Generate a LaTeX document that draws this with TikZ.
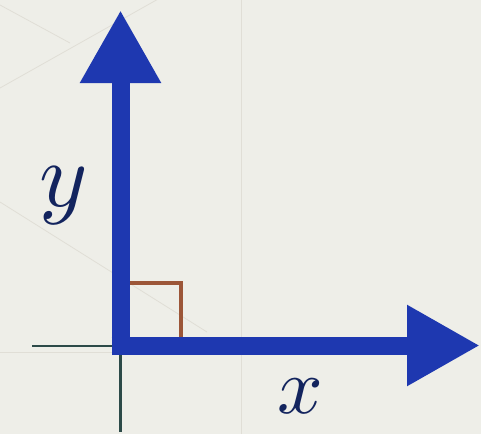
\documentclass[tikz,border=0pt]{standalone}
\usepackage{fix-cm}
\usetikzlibrary{arrows.meta}
\definecolor{bg}{HTML}{EEEEE8}
\definecolor{axblue}{HTML}{1E38B0}
\definecolor{brownsq}{HTML}{9C5638}
\definecolor{teal}{HTML}{2C4A48}
\definecolor{faint}{HTML}{E0DED6}
\definecolor{lbl}{HTML}{13245E}
\tikzset{
  axis/.style={line width=18pt, axblue, -{Triangle[length=73pt,width=76pt]}},
  guide/.style={line width=2.6pt, teal},
  faintline/.style={line width=0.8pt, faint},
  rightmark/.style={line width=4pt, brownsq},
  lab/.style={text=lbl, inner sep=0pt}
}
\begin{document}
\begin{tikzpicture}[x=1pt,y=-1pt]
\fill[bg] (0,0) rectangle (481,434);
\useasboundingbox (0,0) rectangle (481,434);
% faint background lines
\draw[faintline] (241,0) -- (241,434);
\draw[faintline] (0,352) -- (115,352);
\draw[faintline] (0,5) -- (70,43);
\draw[faintline] (0,88) -- (160,-2);
\draw[faintline] (0,202) -- (207,332);
% coordinates
\coordinate (ybase) at (120.5,355);
\coordinate (xbase) at (111.5,345.5);
\coordinate (ytip) at (120.5,10);
\coordinate (xtip) at (480,345.5);
\coordinate (gl) at (32,346);
\coordinate (gc) at (120.5,346);
\coordinate (gb) at (120.5,432);
\coordinate (r1) at (129.5,283);
\coordinate (r2) at (181,283);
\coordinate (r3) at (181,337);
% guides
\draw[guide] (gl) -- (gc) -- (gb);
% right angle mark
\draw[rightmark] (r1) -- (r2) -- (r3);
% axes
\draw[axis] (ybase) -- (ytip);
\draw[axis] (xbase) -- (xtip);
% labels
\node[lab] (ylab) at (64,196) {\scalebox{9.2}{$y$}};
\node[lab] (xlab) at (300,396) {\scalebox{8}{$x$}};
\end{tikzpicture}
\end{document}
